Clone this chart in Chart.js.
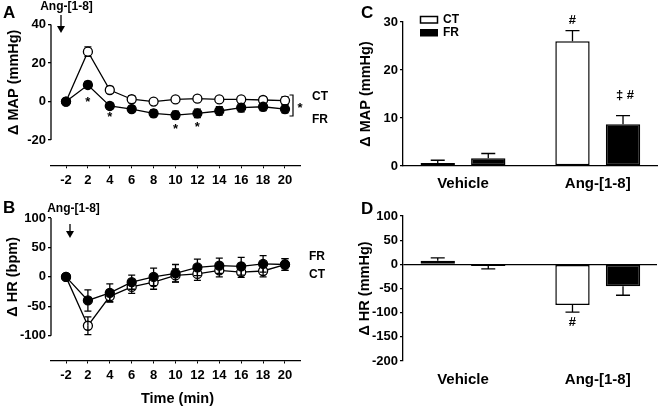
<!DOCTYPE html>
<html><head><meta charset="utf-8">
<script src="https://cdn.jsdelivr.net/npm/chart.js@4/dist/chart.umd.min.js"></script>
<style>
html,body{margin:0;padding:0;background:#fff;width:660px;height:410px;overflow:hidden}
canvas{position:absolute;left:0;top:0}
</style></head><body>
<canvas id="cA" width="660" height="410"></canvas>
<canvas id="cB" width="660" height="410"></canvas>
<canvas id="cC" width="660" height="410"></canvas>
<canvas id="cD" width="660" height="410"></canvas>
<script>
// ---------- data ----------
const timeLabels = ['-2','2','4','6','8','10','12','14','16','18','20'];
const mapCT    = [0, 25.9, 6.0, 1.2, 0.0, 1.1, 1.5, 1.1, 1.1, 0.8, 0.5];
const mapCTerr = [0, 2.5, 1.8, 1.8, 0.8, 1.5, 1.5, 1.5, 1.5, 1.5, 2.0];
const mapFR    = [0, 8.6, -2.3, -3.9, -6.1, -7.0, -6.1, -4.9, -3.2, -2.7, -3.9];
const mapFRerr = [0, 1.8, 1.5, 1.5, 1.8, 2.0, 2.2, 2.2, 2.2, 2.0, 2.0];
const hrCT     = [0, -83, -33, -17, -9, 2.5, 5, 11, 8, 10, 21];
const hrCTerr  = [0, 15, 10, 11, 12, 11, 11, 11, 9, 10, 10];
const hrFR     = [0, -40, -27, -9, 0, 6, 16, 19, 18, 22, 21];
const hrFRerr  = [0, 18, 15, 12, 15, 15, 14, 13, 15, 14, 10];
const groups   = ['Vehicle', 'Ang-[1-8]'];
const cMapCT    = [0.6, 26.0];
const cMapCTerr = [0.6, 2.2];
const cMapFR    = [1.6, 8.7];
const cMapFRerr = [1.0, 1.8];
const dHrCT     = [7.4, -84];
const dHrCTerr  = [6, 15];
const dHrFR     = [-3.5, -45.5];
const dHrFRerr  = [6, 18.5];
const mapTicks = [-20, 0, 20, 40];
const hrTicks  = [-100, -50, 0, 50, 100];

// ---------- helpers ----------
const FONT = "'Liberation Sans', Arial, Helvetica, sans-serif";
const f = s => ({family: FONT, size: s, weight: 'bold'});
Chart.defaults.color = '#000';
Chart.defaults.font.family = FONT;

function text(ctx, s, x, y, size, align, rot) {
  ctx.save();
  ctx.font = 'bold ' + size + 'px ' + FONT;
  ctx.fillStyle = '#000';
  ctx.textAlign = align || 'center';
  ctx.textBaseline = 'middle';
  ctx.translate(x, y);
  if (rot) ctx.rotate(rot);
  ctx.fillText(s, 0, 0);
  ctx.restore();
}
function drawErr(chart, di, errs, mode, cap) {
  const ctx = chart.ctx, ys = chart.scales.y;
  const meta = chart.getDatasetMeta(di);
  const vals = chart.data.datasets[di].data;
  ctx.save(); ctx.strokeStyle = '#000'; ctx.lineWidth = 1.3;
  meta.data.forEach((el, i) => {
    const e = errs[i]; if (!e) return;
    const v = typeof vals[i] === 'object' ? vals[i].y : vals[i];
    const ends = mode === 'both' ? [v + e, v - e] : [v >= 0 ? v + e : v - e];
    const x = el.x;
    ends.forEach(t => {
      const y0 = ys.getPixelForValue(v), y1 = ys.getPixelForValue(t);
      ctx.beginPath();
      ctx.moveTo(x, y0); ctx.lineTo(x, y1);
      ctx.moveTo(x - cap, y1); ctx.lineTo(x + cap, y1);
      ctx.stroke();
    });
  });
  ctx.restore();
}
function arrow(ctx, x, y0, y1) {
  ctx.save(); ctx.strokeStyle = '#000'; ctx.fillStyle = '#000'; ctx.lineWidth = 1.3;
  ctx.beginPath(); ctx.moveTo(x, y0); ctx.lineTo(x, y1 - 5); ctx.stroke();
  ctx.beginPath(); ctx.moveTo(x - 4, y1 - 7); ctx.lineTo(x + 4, y1 - 7); ctx.lineTo(x, y1); ctx.closePath(); ctx.fill();
  ctx.restore();
}

function lineChart(id, ct, ctE, fr, frE, yMin, yMax, yTicks, pad, errAfter, extra) {
  const pts = arr => arr.map((v, i) => ({x: i, y: v}));
  return new Chart(document.getElementById(id), {
    type: 'line',
    data: {datasets: [
      {label: 'CT', data: pts(ct), order: 2, borderColor: '#000', borderWidth: 1.3, pointRadius: 4.5,
       pointBackgroundColor: '#fff', pointBorderColor: '#000', pointBorderWidth: 1.3, fill: false, tension: 0},
      {label: 'FR', data: pts(fr), order: 1, borderColor: '#000', borderWidth: 1.3, pointRadius: 4.5,
       pointBackgroundColor: '#000', pointBorderColor: '#000', pointBorderWidth: 1.3, fill: false, tension: 0}
    ]},
    options: {
      responsive: false, animation: false, events: [],
      layout: {padding: pad},
      plugins: {legend: {display: false}, tooltip: {enabled: false}},
      scales: {
        x: {type: 'linear', min: -0.685, max: 10.685, offset: false,
            afterBuildTicks: s => { s.ticks = timeLabels.map((_, i) => ({value: i})); },
            afterFit: s => { s.height = 30; },
            ticks: {callback: v => timeLabels[v], font: f(13), color: '#000', padding: 4, autoSkip: false, maxRotation: 0},
            grid: {drawOnChartArea: false, drawTicks: true, tickLength: 3, color: '#000', lineWidth: 1},
            border: {display: true, color: '#000', width: 1.3}},
        y: {type: 'linear', min: yMin, max: yMax,
            afterBuildTicks: s => { s.ticks = yTicks.map(v => ({value: v})); },
            afterFit: s => { s.width = 51; },
            ticks: {font: f(13), color: '#000', padding: 2},
            grid: {drawOnChartArea: false, tickLength: 3, color: '#000', lineWidth: 1.3},
            border: {display: false}}
      }
    },
    plugins: [{
      id: 'extras',
      beforeDatasetsDraw(chart) { if (!errAfter) { drawErr(chart, 0, ctE, 'both', 3.5); drawErr(chart, 1, frE, 'both', 3.5); } },
      afterDatasetsDraw(chart) { if (errAfter) { drawErr(chart, 0, ctE, 'both', 3.5); drawErr(chart, 1, frE, 'both', 3.5); } },
      afterDraw(chart) {
        const ctx = chart.ctx, ys = chart.scales.y, L = chart.chartArea.left;
        ctx.save(); ctx.strokeStyle = '#000'; ctx.lineWidth = 1.3;
        ctx.beginPath();
        ctx.moveTo(L, ys.getPixelForValue(yTicks[yTicks.length - 1]));
        ctx.lineTo(L, ys.getPixelForValue(yTicks[0]));
        ctx.stroke(); ctx.restore();
        extra(chart);
      }
    }]
  });
}

function barChart(id, ct, ctE, fr, frE, yMin, yMax, step, pad, xBorder, zeroLine, extra) {
  const pts = arr => arr.map((v, i) => ({x: i + 1, y: v}));
  return new Chart(document.getElementById(id), {
    type: 'bar',
    data: {datasets: [
      {label: 'CT', data: pts(ct), backgroundColor: '#fff', borderColor: '#000', borderWidth: 1.5, borderSkipped: false,
       categoryPercentage: 0.75, barPercentage: 0.68},
      {label: 'FR', data: pts(fr), backgroundColor: '#000', borderColor: '#000', borderWidth: 1.5, borderSkipped: false,
       categoryPercentage: 0.75, barPercentage: 0.68}
    ]},
    options: {
      responsive: false, animation: false, events: [],
      layout: {padding: pad},
      plugins: {legend: {display: false}, tooltip: {enabled: false}},
      scales: {
        x: {type: 'linear', min: 0.5547, max: 2.4397, offset: false,
            afterBuildTicks: s => { s.ticks = groups.map((_, i) => ({value: i + 1})); },
            afterFit: s => { s.height = 30; },
            ticks: {callback: v => groups[v - 1], font: f(15), color: '#000', padding: xBorder ? 1 : 2, autoSkip: false, maxRotation: 0},
            grid: {display: false},
            border: {display: xBorder, color: '#000', width: 1.3}},
        y: {type: 'linear', min: yMin, max: yMax,
            ticks: {stepSize: step, font: f(13), color: '#000', padding: 2},
            afterFit: s => { s.width = 403; },
            grid: {drawOnChartArea: zeroLine, tickLength: 3, lineWidth: 1.3, tickColor: '#000',
                   color: c => (c.tick && c.tick.value === 0) ? '#000' : 'rgba(0,0,0,0)'},
            border: {display: true, color: '#000', width: 1.3}}
      }
    },
    plugins: [{
      id: 'extras',
      afterDatasetsDraw(chart) { drawErr(chart, 0, ctE, 'away', 7); drawErr(chart, 1, frE, 'away', 7); },
      afterDraw(chart) { extra(chart); }
    }]
  });
}

// ---------- Panel A ----------
lineChart('cA', mapCT, mapCTerr, mapFR, mapFRerr, -33.1, 40, mapTicks,
  {left: 0, top: 24.5, right: 360, bottom: 214.7}, false, chart => {
    const ctx = chart.ctx, xs = chart.scales.x, ys = chart.scales.y, R = chart.chartArea.right;
    text(ctx, 'A', 3, 13, 17, 'left');
    text(ctx, 'Δ MAP (mmHg)', 14, (ys.getPixelForValue(40) + ys.getPixelForValue(-20)) / 2, 14.5, 'center', -Math.PI / 2);
    text(ctx, 'Ang-[1-8]', xs.getPixelForValue(0) + 0.5, 7, 12, 'center');
    arrow(ctx, xs.getPixelForValue(0) - 5, 15, 33);
    [[1, 1.1], [2, -6.5], [5, -13.1], [6, -11.7]].forEach(([i, v]) =>
      text(ctx, '*', xs.getPixelForValue(i), ys.getPixelForValue(v) + 3, 13, 'center'));
    // bracket
    const bx = R - 7, bt = ys.getPixelForValue(3.4), bb = ys.getPixelForValue(-7.5);
    ctx.save(); ctx.strokeStyle = '#000'; ctx.lineWidth = 1.2;
    ctx.beginPath(); ctx.moveTo(bx - 3.5, bt); ctx.lineTo(bx, bt); ctx.lineTo(bx, bb); ctx.lineTo(bx - 3.5, bb); ctx.stroke();
    ctx.restore();
    text(ctx, '*', bx + 7, ys.getPixelForValue(-1.8) + 3, 13, 'center');
    text(ctx, 'CT', R + 12, ys.getPixelForValue(2.3), 12, 'left');
    text(ctx, 'FR', R + 12, ys.getPixelForValue(-9.6), 12, 'left');
  });

// ---------- Panel B ----------
lineChart('cB', hrCT, hrCTerr, hrFR, hrFRerr, -142, 100, hrTicks,
  {left: 0, top: 218, right: 360, bottom: 19.5}, true, chart => {
    const ctx = chart.ctx, xs = chart.scales.x, ys = chart.scales.y, R = chart.chartArea.right;
    text(ctx, 'B', 3, 208, 17, 'left');
    text(ctx, 'Δ HR (bpm)', 13, (ys.getPixelForValue(100) + ys.getPixelForValue(-100)) / 2, 14.5, 'center', -Math.PI / 2);
    text(ctx, 'Ang-[1-8]', xs.getPixelForValue(0) + 7.5, 209, 12, 'center');
    arrow(ctx, xs.getPixelForValue(0) + 4, 224, 238);
    text(ctx, 'FR', R + 9, ys.getPixelForValue(33.8), 12, 'left');
    text(ctx, 'CT', R + 9, ys.getPixelForValue(3.2), 12, 'left');
    text(ctx, 'Time (min)', (chart.chartArea.left + R) / 2 + 2, 399, 14.5, 'center');
  });

// ---------- Panel C ----------
barChart('cC', cMapCT, cMapCTerr, cMapFR, cMapFRerr, 0, 30, 10,
  {left: 0, top: 22, right: 3, bottom: 214}, true, false, chart => {
    const ctx = chart.ctx, ys = chart.scales.y;
    text(ctx, 'C', 361, 13, 17, 'left');
    text(ctx, 'Δ MAP (mmHg)', 366, (chart.chartArea.top + chart.chartArea.bottom) / 2, 14.5, 'center', -Math.PI / 2);
    // legend
    ctx.save(); ctx.strokeStyle = '#000'; ctx.lineWidth = 1.5; ctx.fillStyle = '#000';
    ctx.strokeRect(420.5, 16.5, 17, 6.5);
    ctx.fillRect(420, 29, 18, 7.5);
    ctx.restore();
    text(ctx, 'CT', 443, 20, 12, 'left');
    text(ctx, 'FR', 443, 33, 12, 'left');
    const ctBar = chart.getDatasetMeta(0).data[1], frBar = chart.getDatasetMeta(1).data[1];
    text(ctx, '#', ctBar.x, ys.getPixelForValue(30.3), 13, 'center');
    text(ctx, '‡ #', frBar.x + 2, ys.getPixelForValue(14.8), 13, 'center');
  });

// ---------- Panel D ----------
barChart('cD', dHrCT, dHrCTerr, dHrFR, dHrFRerr, -200, 100, 50,
  {left: 0, top: 216, right: 3, bottom: 19}, false, true, chart => {
    const ctx = chart.ctx, ys = chart.scales.y;
    text(ctx, 'D', 361, 209, 17, 'left');
    text(ctx, 'Δ HR (mmHg)', 365, (chart.chartArea.top + chart.chartArea.bottom) / 2, 14.5, 'center', -Math.PI / 2);
    const ctBar = chart.getDatasetMeta(0).data[1];
    text(ctx, '#', ctBar.x, ys.getPixelForValue(-121), 13, 'center');
  });
</script>
</body></html>
